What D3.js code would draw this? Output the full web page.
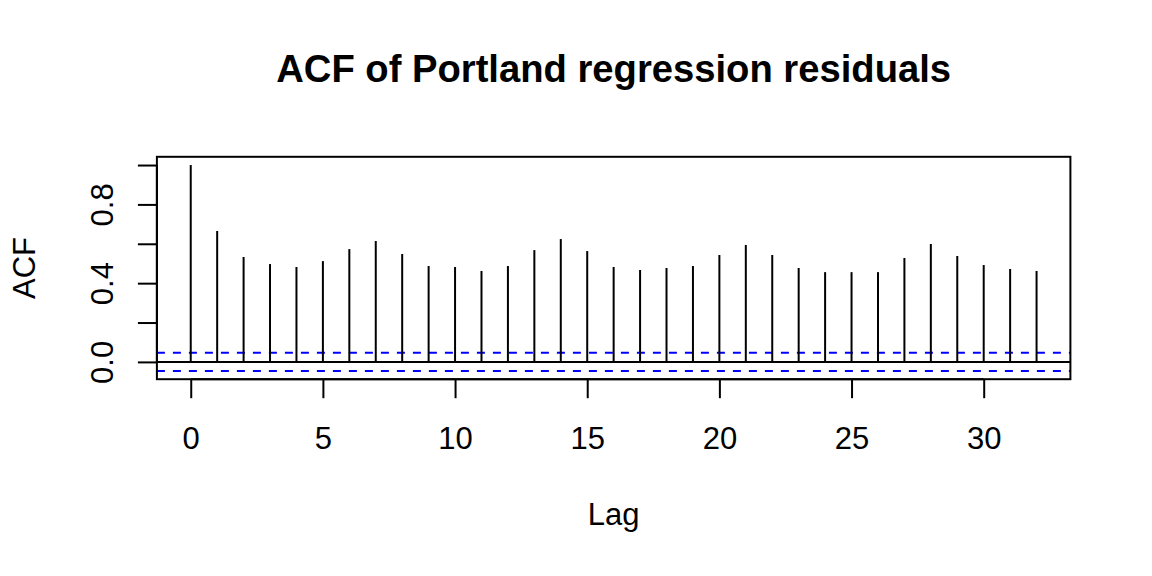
<!DOCTYPE html>
<html><head><meta charset="utf-8">
<script src="https://cdn.jsdelivr.net/npm/d3@7"></script>
<style>
body{margin:0;background:#fff;}
svg{display:block;font-family:"Liberation Sans",Arial,sans-serif;}
</style></head>
<body><svg id="c" width="1152" height="576"></svg>
<script>
const lags = d3.range(0, 33);
const acfValues = [1.000,0.665,0.533,0.497,0.482,0.512,0.573,0.614,0.548,0.487,0.482,0.462,0.487,0.568,0.624,0.563,0.482,0.467,0.477,0.487,0.543,0.594,0.543,0.477,0.456,0.456,0.456,0.528,0.599,0.538,0.492,0.472,0.462];
const ciBound = 0.046;
const xTicks = [0,5,10,15,20,25,30];
const yTicks = [0,0.2,0.4,0.6,0.8,1.0];
const yTickLabels = ["0.0","","0.4","","0.8",""];
const titleText = "ACF of Portland regression residuals";
const xLabel = "Lag", yLabel = "ACF";

const svg = d3.select("#c");
const L = 156.9, R = 1070.4, T = 156.8, B = 379.2;
const xPad = 0.04*(32-0), yLo = -ciBound, yHi = 1, yPad = 0.04*(yHi-yLo);
const x = d3.scaleLinear().domain([0 - xPad, 32 + xPad]).range([L, R]);
const y = d3.scaleLinear().domain([yLo - yPad, yHi + yPad]).range([B, T]);
const fs = 31;

// zero line
svg.append("line").attr("x1",L).attr("x2",R).attr("y1",y(0)).attr("y2",y(0))
  .attr("stroke","#000").attr("stroke-width",2);
// CI lines
[ciBound,-ciBound].forEach(v=>{
  svg.append("line").attr("x1",L).attr("x2",R).attr("y1",y(v)).attr("y2",y(v))
    .attr("stroke","#0000ff").attr("stroke-width",2).attr("stroke-dasharray","8,8");
});
// spikes
svg.append("g").selectAll("line").data(lags).join("line")
  .attr("x1",d=>x(d)).attr("x2",d=>x(d)).attr("y1",y(0)).attr("y2",(d,i)=>y(acfValues[i]))
  .attr("stroke","#000").attr("stroke-width",2);
// box
svg.append("rect").attr("x",L).attr("y",T).attr("width",R-L).attr("height",B-T)
  .attr("fill","none").attr("stroke","#000").attr("stroke-width",2);

// x axis
const gx = svg.append("g").attr("transform",`translate(0,${B})`)
  .call(d3.axisBottom(x).tickValues(xTicks).tickSize(19).tickPadding(0).tickFormat(d3.format("d")));
gx.select(".domain").attr("d",`M${x(0)},0H${x(30)}`).attr("stroke-width",2);
gx.selectAll(".tick line").attr("stroke-width",2);
gx.selectAll(".tick text").attr("font-size",fs).attr("font-family","'Liberation Sans',Arial,sans-serif")
  .attr("dy",null).attr("y",70).attr("fill","#000");

// y axis
const gy = svg.append("g").attr("transform",`translate(${L},0)`)
  .call(d3.axisLeft(y).tickValues(yTicks).tickSize(19).tickFormat((d,i)=>yTickLabels[i]));
gy.select(".domain").attr("d",`M0,${y(0)}V${y(1)}`).attr("stroke-width",2);
gy.selectAll(".tick line").attr("stroke-width",2);
gy.selectAll(".tick text").attr("font-size",fs).attr("font-family","'Liberation Sans',Arial,sans-serif")
  .attr("x",null).attr("dy",null).attr("text-anchor","middle").attr("fill","#000")
  .attr("transform","translate(-44,0) rotate(-90)");

// title
svg.append("text").attr("x",(L+R)/2).attr("y",81.5).attr("text-anchor","middle")
  .attr("font-size",38.2).attr("font-weight","bold").text(titleText);
// axis labels
svg.append("text").attr("x",(L+R)/2).attr("y",525).attr("text-anchor","middle")
  .attr("font-size",fs).text(xLabel);
svg.append("text").attr("transform",`translate(35,${(T+B)/2}) rotate(-90)`).attr("text-anchor","middle")
  .attr("font-size",fs).text(yLabel);
</script></body></html>
